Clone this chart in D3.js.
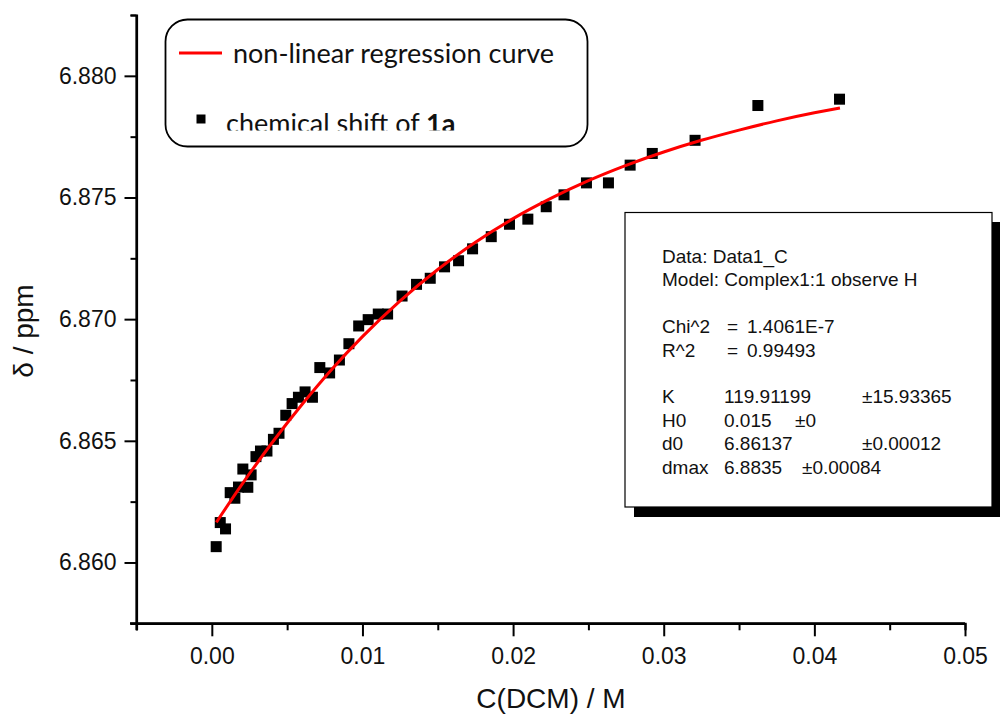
<!DOCTYPE html>
<html>
<head>
<meta charset="utf-8">
<script src="https://cdn.jsdelivr.net/npm/d3@7"></script>
<style>
  body { margin: 0; background: #fff; }
  svg { display: block; }
  .tick text { font-family: 'Liberation Sans', Arial, sans-serif; }
</style>
</head>
<body>
<div id="chart"></div>
<script>
// measured titration points: C(DCM) in M, chemical shift in ppm
const conc = [
  0.00029, 0.00056, 0.00091, 0.00122, 0.00153, 0.00177, 0.00206, 0.00239,
  0.00261, 0.00293, 0.00323, 0.00366, 0.00409, 0.00446, 0.00491, 0.00533,
  0.00575, 0.00619, 0.00668, 0.00717, 0.00782, 0.00847, 0.00910, 0.00975,
  0.01038, 0.01105, 0.01167, 0.01263, 0.01359, 0.01450, 0.01545, 0.01638,
  0.01731, 0.01855, 0.01976, 0.02098, 0.02220, 0.02338, 0.02487, 0.02633,
  0.02777, 0.02924, 0.03208, 0.03625, 0.04167
]
const shift = [
  6.86065, 6.86164, 6.86138, 6.86287, 6.86264, 6.86310, 6.86384, 6.86309,
  6.86360, 6.86435, 6.86458, 6.86458, 6.86506, 6.86531, 6.86605, 6.86653,
  6.86679, 6.86701, 6.86679, 6.86801, 6.86779, 6.86832, 6.86899, 6.86972,
  6.86998, 6.87021, 6.87021, 6.87095, 6.87143, 6.87168, 6.87215, 6.87240,
  6.87289, 6.87339, 6.87390, 6.87411, 6.87462, 6.87511, 6.87560, 6.87560,
  6.87633, 6.87681, 6.87735, 6.87878, 6.87904
]

// regression curve
const curveX = [
  0.0003, 0.002, 0.004, 0.006, 0.008, 0.010, 0.0125, 0.015, 0.0175, 0.020,
  0.0225, 0.025, 0.0275, 0.030, 0.0325, 0.035, 0.0375, 0.040, 0.0417
]
const curveY = [
  6.86165, 6.86321, 6.86492, 6.86650, 6.86796, 6.86928, 6.87075, 6.87204,
  6.87316, 6.87413, 6.87496, 6.87569, 6.87632, 6.87687, 6.87735, 6.87777,
  6.87815, 6.87848, 6.87868
]

const xMajor = [0, 0.01, 0.02, 0.03, 0.04, 0.05]
const xMinor = [-0.005, 0.005, 0.015, 0.025, 0.035, 0.045]
const yMajor = [6.860, 6.865, 6.870, 6.875, 6.880]
const yMinor = [6.8575, 6.8625, 6.8675, 6.8725, 6.8775, 6.8825]

// fit report: label, value, error (empty rows are spacers)
const fitLines = [
  ['Data: Data1_C'],
  ['Model: Complex1:1 observe H'],
  [],
  ['Chi^2', '=', '1.4061E-7'],
  ['R^2', '=', '0.99493'],
  [],
  ['K', '119.91199', '±15.93365'],
  ['H0', '0.015', '±0'],
  ['d0', '6.86137', '±0.00012'],
  ['dmax', '6.8835', '±0.00084']
]

const width = 1000
const height = 720

const svg = d3
  .select('#chart')
  .append('svg')
  .attr('width', width)
  .attr('height', height)

const x = d3.scaleLinear().domain([-0.005, 0.05]).range([136.5, 965])
const y = d3.scaleLinear().domain([6.8575, 6.8825]).range([623.3, 15])

// axes
const xAxisG = svg.append('g').attr('transform', 'translate(0,623.3)')
xAxisG.call(
  d3.axisBottom(x).tickValues(xMajor).tickSize(13).tickPadding(11)
    .tickFormat(d3.format('.2f'))
)
xAxisG.append('g').call(
  d3.axisBottom(x).tickValues(xMinor).tickSize(7).tickFormat('')
)
xAxisG.select('.domain').attr('d', 'M' + (x(-0.005) - 6.5) + ',0H' + x(0.05))

const yAxisG = svg.append('g').attr('transform', 'translate(136.5,0)')
yAxisG.call(
  d3.axisLeft(y).tickValues(yMajor).tickSize(12).tickPadding(8)
    .tickFormat(d3.format('.3f'))
)
yAxisG.append('g').call(
  d3.axisLeft(y).tickValues(yMinor).tickSize(6).tickFormat('')
)
yAxisG.select('.domain').attr('d', 'M0,' + y(6.8825) + 'V' + (y(6.8575) + 7))

svg.selectAll('.domain').attr('stroke', '#000').attr('stroke-width', 2.2)
svg.selectAll('.tick line').attr('stroke', '#000').attr('stroke-width', 2)
svg.selectAll('.tick text')
  .attr('font-size', 23)
  .attr('fill', '#111')

// axis titles
svg.append('text')
  .attr('x', 551)
  .attr('y', 708)
  .attr('text-anchor', 'middle')
  .attr('font-family', 'Liberation Sans, Arial, sans-serif')
  .attr('font-size', 28)
  .attr('fill', '#111')
  .text('C(DCM) / M')

svg.append('text')
  .attr('transform', 'translate(33,331) rotate(-90)')
  .attr('text-anchor', 'middle')
  .attr('font-family', 'Liberation Sans, Arial, sans-serif')
  .attr('font-size', 28)
  .attr('fill', '#111')
  .text('δ / ppm')

// data squares
const pts = conc.map((c, i) => ({ c: c, s: shift[i] }))
const sq = 11
svg.selectAll('.pt')
  .data(pts)
  .enter()
  .append('rect')
  .attr('class', 'pt')
  .attr('x', d => x(d.c) - sq / 2)
  .attr('y', d => y(d.s) - sq / 2)
  .attr('width', sq)
  .attr('height', sq)
  .attr('fill', '#000')

// fitted curve
const line = d3.line()
  .x((d, i) => x(curveX[i]))
  .y(d => y(d))
  .curve(d3.curveMonotoneX)

svg.append('path')
  .datum(curveY)
  .attr('d', line)
  .attr('fill', 'none')
  .attr('stroke', '#ff0000')
  .attr('stroke-width', 3)

// legend
const legend = svg.append('g')
legend.append('rect')
  .attr('x', 165.5)
  .attr('y', 19.5)
  .attr('width', 422)
  .attr('height', 127)
  .attr('rx', 22)
  .attr('fill', '#fff')
  .attr('stroke', '#000')
  .attr('stroke-width', 1.8)

legend.append('line')
  .attr('x1', 179).attr('x2', 222)
  .attr('y1', 53).attr('y2', 53)
  .attr('stroke', '#ff0000')
  .attr('stroke-width', 3)

legend.append('text')
  .attr('x', 233)
  .attr('y', 63)
  .attr('font-family', 'Lato, sans-serif')
  .attr('font-size', 27)
  .attr('fill', '#111')
  .text('non-linear regression curve')

legend.append('rect')
  .attr('x', 196.5).attr('y', 114.5)
  .attr('width', 9).attr('height', 9)
  .attr('fill', '#000')

// the second entry is cut off at the bottom, as in the original
svg.append('clipPath')
  .attr('id', 'legclip')
  .append('rect')
  .attr('x', 160).attr('y', 20).attr('width', 430).attr('height', 110.5)

const t2 = legend.append('text')
  .attr('clip-path', 'url(#legclip)')
  .attr('x', 226)
  .attr('y', 133)
  .attr('font-family', 'Lato, sans-serif')
  .attr('font-size', 27)
  .attr('fill', '#111')
t2.append('tspan').text('chemical shift of ')
t2.append('tspan').attr('font-weight', 'bold').text('1a')

// fit results box with drop shadow
const box = svg.append('g')
box.append('rect')
  .attr('x', 634).attr('y', 222)
  .attr('width', 367).attr('height', 295)
  .attr('fill', '#000')
box.append('rect')
  .attr('x', 625).attr('y', 212.5)
  .attr('width', 367).attr('height', 294.5)
  .attr('fill', '#fff')
  .attr('stroke', '#000')
  .attr('stroke-width', 1.2)

const colX = [662, 724, 862]
fitLines.forEach((row, i) => {
  row.forEach((txt, j) => {
    let cx = colX[j]
    if (row[1] === '=') cx = [662, 727, 747][j]
    if (row[0] === 'H0' && j === 2) cx = 795
    if (row[0] === 'dmax' && j === 2) cx = 802
    box.append('text')
      .attr('x', cx)
      .attr('y', 263 + i * 23.4)
      .attr('font-family', 'Liberation Sans, Arial, sans-serif')
      .attr('font-size', 19)
      .attr('fill', '#111')
      .text(txt)
  })
})
</script>
</body>
</html>
